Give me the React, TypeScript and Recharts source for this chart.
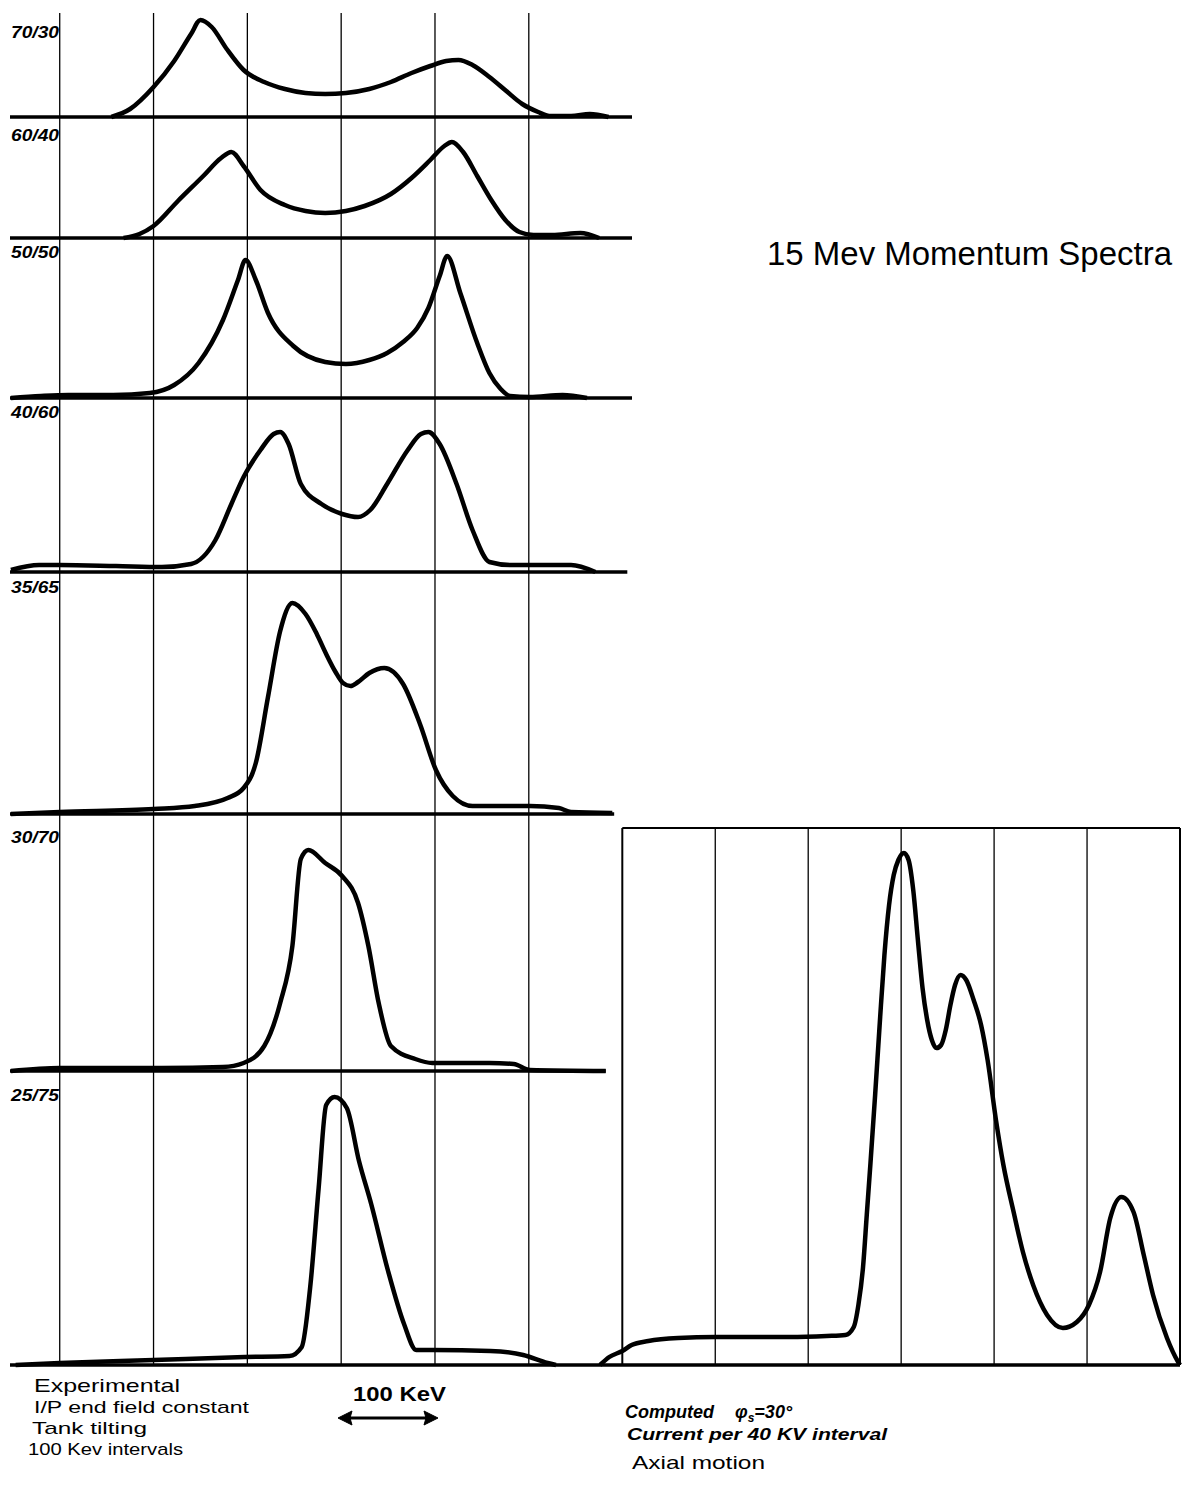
import React from "react";
import { LineChart, Line, XAxis, YAxis, ReferenceLine } from "recharts";

// Experimental spectra: energy in keV (grid every 100 keV), amplitude in arbitrary units
const panelLabels = ["70/30", "60/40", "50/50", "40/60", "35/65", "30/70", "25/75"];

const kev7030 = [55, 75, 100, 122, 140, 150, 162, 178, 196, 218, 240, 262, 283, 305, 330, 353, 375, 395, 412, 425, 440, 458, 476, 493, 510, 522, 545, 565, 585];
const amp7030 = [0, 8, 30, 56, 83, 97, 90, 68, 47, 35, 28, 24, 23, 24, 28, 35, 44, 51, 56, 57, 52, 40, 26, 13, 5, 1, 1, 3, 0];

const kev6040 = [68, 85, 100, 126, 153, 172, 183, 196, 214, 240, 262, 283, 305, 325, 353, 375, 395, 410, 418, 430, 445, 460, 475, 490, 505, 525, 555, 575];
const amp6040 = [0, 4, 12, 37, 62, 80, 86, 72, 48, 33, 27, 25, 27, 32, 44, 60, 78, 92, 96, 86, 62, 38, 18, 6, 3, 3, 5, 0];

const kev5050 = [-52, -20, 9, 57, 96, 122, 148, 174, 190, 198, 209, 222, 249, 283, 305, 330, 349, 366, 381, 393, 405, 413, 427, 445, 458, 470, 480, 501, 536, 562];
const amp5050 = [0, 2, 3, 3, 5, 13, 35, 78, 118, 138, 118, 85, 52, 36, 34, 38, 45, 56, 70, 90, 122, 142, 105, 55, 25, 9, 2, 1, 3, 0];

const kev4060 = [-52, -22, 0, 60, 109, 140, 166, 183, 196, 214, 228, 235, 244, 257, 279, 301, 318, 331, 349, 371, 385, 393, 405, 423, 440, 458, 480, 545, 571];
const amp4060 = [2, 7, 7, 6, 5, 8, 32, 68, 95, 122, 138, 140, 128, 88, 68, 58, 55, 62, 88, 122, 138, 140, 128, 88, 42, 10, 7, 7, 0];

const kev3565 = [-52, 0, 100, 144, 179, 196, 209, 222, 235, 248, 262, 274, 284, 294, 302, 310, 318, 330, 346, 366, 384, 401, 419, 440, 501, 532, 545, 589];
const amp3565 = [0, 2, 5, 8, 16, 26, 51, 117, 183, 211, 200, 180, 160, 142, 131, 128, 132, 141, 146, 130, 90, 44, 18, 8, 8, 6, 2, 1];

const kev3070 = [-52, 0, 109, 174, 196, 218, 235, 248, 257, 265, 283, 301, 318, 329, 340, 353, 379, 397, 458, 484, 501, 582];
const amp3070 = [0, 3, 3, 4, 8, 25, 68, 125, 212, 221, 208, 195, 168, 125, 68, 25, 12, 8, 8, 7, 1, 0];

const kev2575 = [-47, 0, 100, 197, 245, 258, 267, 276, 284, 293, 306, 319, 332, 350, 367, 380, 398, 459, 494, 520, 529];
const amp2575 = [0, 2, 5, 8, 9, 18, 78, 177, 260, 268, 257, 204, 161, 94, 41, 15, 15, 14, 10, 2, 0];

// Computed spectrum (axial motion)
const computedKev = [-24, -14, 0, 10, 28, 60, 100, 140, 180, 220, 240, 249, 254, 259, 263, 267, 272, 277, 282, 287, 292, 297, 303, 308, 313, 318, 323, 328, 333, 338, 343, 348, 353, 358, 364, 370, 378, 386, 393, 402, 410, 421, 431, 442, 457, 474, 489, 502, 514, 525, 537, 550, 561, 571, 586, 598, 600];
const computedAmp = [0, 8, 14, 20, 24, 27, 28, 28, 28, 29, 30, 38, 60, 98, 150, 202, 270, 342, 410, 460, 490, 505, 512, 505, 475, 425, 377, 345, 325, 317, 320, 335, 360, 380, 390, 385, 365, 340, 305, 245, 200, 153, 113, 80, 50, 37, 43, 60, 93, 147, 168, 153, 110, 70, 27, 3, 0];

const gridKev = [0, 100, 200, 300, 400, 500];
const computedGrid = [100, 200, 300, 400, 500];

// layout (page pixels)
const panelTop = [13, 117, 238, 398, 572, 814, 1071];
const panelBase = [117, 238, 398, 572, 814, 1071, 1365];
const baseEnd = [610, 610, 610, 605, 591, 582, 576];
const labelY = [38, 141, 258, 418, 593, 843, 1101];

const panels = [
  { kev: kev7030, amp: amp7030 },
  { kev: kev6040, amp: amp6040 },
  { kev: kev5050, amp: amp5050 },
  { kev: kev4060, amp: amp4060 },
  { kev: kev3565, amp: amp3565 },
  { kev: kev3070, amp: amp3070 },
  { kev: kev2575, amp: amp2575 },
];

const ink = "#000";
const font = "'Liberation Sans', 'DejaVu Sans', sans-serif";

function SpectrumPanel({ i }: { i: number }) {
  const h = panelBase[i] - panelTop[i];
  const data = panels[i].kev.map((k, j) => ({ kev: k, amp: panels[i].amp[j] }));
  return (
    <div style={{ position: "absolute", left: 0, top: panelTop[i], width: 640, height: h + 6 }}>
      <LineChart width={640} height={h + 6} data={data} margin={{ top: 0, right: 8, bottom: 6, left: 10 }}>
        <XAxis type="number" dataKey="kev" domain={[-53, 610]} hide />
        <YAxis type="number" domain={[0, h]} hide />
        {gridKev.map((g) => (
          <ReferenceLine key={g} x={g} stroke={ink} strokeWidth={1.3} />
        ))}
        <ReferenceLine
          segment={[{ x: -53, y: 0 }, { x: baseEnd[i], y: 0 }]}
          stroke={ink}
          strokeWidth={3.5}
        />
        <Line
          type="monotone"
          dataKey="amp"
          stroke={ink}
          strokeWidth={4.5}
          dot={false}
          isAnimationActive={false}
        />
      </LineChart>
    </div>
  );
}

function ComputedPanel() {
  const h = 537;
  const data = computedKev.map((k, j) => ({ kev: k, amp: computedAmp[j] }));
  return (
    <div style={{ position: "absolute", left: 590, top: 822, width: 600, height: h + 12 }}>
      <LineChart width={600} height={h + 12} data={data} margin={{ top: 6, right: 10, bottom: 6, left: 10 }}>
        <XAxis type="number" dataKey="kev" domain={[-24, 600]} hide />
        <YAxis type="number" domain={[0, h]} hide />
        {computedGrid.map((g) => (
          <ReferenceLine key={g} x={g} stroke={ink} strokeWidth={1.3} />
        ))}
        <ReferenceLine x={0} stroke={ink} strokeWidth={2} />
        <ReferenceLine x={600} stroke={ink} strokeWidth={2} />
        <ReferenceLine segment={[{ x: 0, y: h }, { x: 600, y: h }]} stroke={ink} strokeWidth={2} />
        <ReferenceLine y={0} stroke={ink} strokeWidth={3.5} />
        <Line
          type="monotone"
          dataKey="amp"
          stroke={ink}
          strokeWidth={4.5}
          dot={false}
          isAnimationActive={false}
        />
      </LineChart>
    </div>
  );
}

export default function App() {
  return (
    <div style={{ position: "absolute", left: 0, top: 0, width: 1187, height: 1486, background: "#fff", overflow: "hidden" }}>
      {panels.map((_, i) => (
        <SpectrumPanel key={i} i={i} />
      ))}
      <ComputedPanel />
      <svg width={1187} height={1486} style={{ position: "absolute", left: 0, top: 0, pointerEvents: "none" }}>
        <g fontFamily={font} fill={ink}>
          {panelLabels.map((t, i) => (
            <text key={t} x={11} y={labelY[i]} fontSize={16} fontWeight="bold" fontStyle="italic" textLength={48} lengthAdjust="spacingAndGlyphs">
              {t}
            </text>
          ))}
          <text x={767} y={265} fontSize={34} textLength={405} lengthAdjust="spacingAndGlyphs">
            15 Mev  Momentum Spectra
          </text>
          <text x={34} y={1392} fontSize={19} textLength={146} lengthAdjust="spacingAndGlyphs">Experimental</text>
          <text x={34} y={1413} fontSize={17} textLength={215} lengthAdjust="spacingAndGlyphs">I/P end field constant</text>
          <text x={32} y={1434} fontSize={17} textLength={115} lengthAdjust="spacingAndGlyphs">Tank tilting</text>
          <text x={28} y={1455} fontSize={17} textLength={155} lengthAdjust="spacingAndGlyphs">100 Kev intervals</text>
          <text x={353} y={1401} fontSize={20} fontWeight="bold" textLength={93} lengthAdjust="spacingAndGlyphs">100 KeV</text>
          <text x={625} y={1418} fontSize={18} fontStyle="italic" fontWeight="bold">
            Computed
          </text>
          <text x={735} y={1418} fontSize={18} fontStyle="italic" fontWeight="bold">
            φ<tspan fontSize={12} dy={4}>s</tspan><tspan dy={-4}>=30°</tspan>
          </text>
          <text x={627} y={1440} fontSize={17} fontStyle="italic" fontWeight="bold" textLength={260} lengthAdjust="spacingAndGlyphs">Current per 40 KV interval</text>
          <text x={632} y={1469} fontSize={19} textLength={133} lengthAdjust="spacingAndGlyphs">Axial motion</text>
        </g>
        <g stroke={ink} fill={ink}>
          <line x1={346} y1={1418} x2={430} y2={1418} strokeWidth={3} />
          <polygon points="338,1418 352,1411 350,1418 352,1425" />
          <polygon points="438,1418 424,1411 426,1418 424,1425" />
        </g>
      </svg>
    </div>
  );
}
